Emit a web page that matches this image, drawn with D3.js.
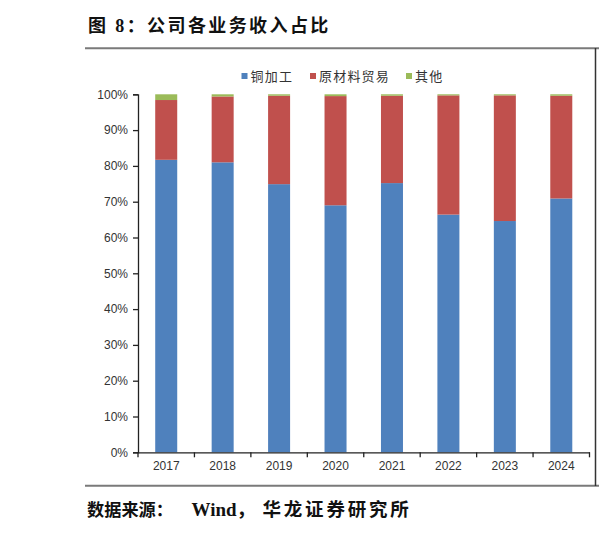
<!DOCTYPE html>
<html>
<head>
<meta charset="utf-8">
<script src="https://cdn.jsdelivr.net/npm/d3@7"></script>
<style>
  html, body { margin: 0; padding: 0; background: #fff; }
  svg { display: block; }
</style>
</head>
<body>
<svg id="chart" width="599" height="534"></svg>
<script>
// ---- data ----
const years = ["2017", "2018", "2019", "2020", "2021", "2022", "2023", "2024"];
const seriesNames = ["铜加工", "原材料贸易", "其他"];
const copper = [81.7, 81.0, 74.9, 69.0, 75.2, 66.4, 64.6, 70.9];
const trade  = [16.7, 18.4, 24.7, 30.5, 24.4, 33.3, 35.1, 28.7];
const other  = [1.6, 0.6, 0.4, 0.5, 0.4, 0.3, 0.3, 0.4];
const yTicks = [0, 10, 20, 30, 40, 50, 60, 70, 80, 90, 100];
const titleText = "图 8：公司各业务收入占比";
const sourceParts = ["数据来源：", "Wind，", "华龙证券研究所"];

const colors = ["#4F81BD", "#C0504D", "#9BBB59"];

const svg = d3.select("#chart");

// table for stacking
const table = years.map((y, i) => ({ year: y, "铜加工": copper[i], "原材料贸易": trade[i], "其他": other[i] }));
const stacked = d3.stack().keys(seriesNames)(table);

const x = d3.scaleBand().domain(years).range([138, 589.5]).paddingInner(0.61).paddingOuter(0.305);
const y = d3.scaleLinear().domain([0, 100]).range([452.3, 94.3]);

// title & frame
svg.append("text")
  .attr("x", 88).attr("y", 32)
  .attr("font-family", "'Liberation Serif', 'Noto Sans CJK SC', serif")
  .attr("font-weight", "bold")
  .attr("font-size", 18)
  .attr("letter-spacing", 2.4)
  .attr("fill", "#111")
  .text(titleText);

svg.append("line").attr("x1", 85).attr("x2", 599).attr("y1", 48.3).attr("y2", 48.3)
  .attr("stroke", "#7a7a7a").attr("stroke-width", 2);
svg.append("line").attr("x1", 85).attr("x2", 599).attr("y1", 485.7).attr("y2", 485.7)
  .attr("stroke", "#7a7a7a").attr("stroke-width", 2);
svg.append("line").attr("x1", 595.5).attr("x2", 595.5).attr("y1", 48).attr("y2", 486)
  .attr("stroke", "#333").attr("stroke-width", 1.5);

// source line
const src = svg.append("text")
  .attr("y", 516)
  .attr("font-family", "'Liberation Serif', 'Noto Sans CJK SC', serif")
  .attr("font-weight", "bold")
  .attr("fill", "#111");
src.append("tspan").attr("x", 87).attr("font-size", 17.2).text(sourceParts[0]);
src.append("tspan").attr("x", 191.5).attr("font-size", 19).text(sourceParts[1]);
src.append("tspan").attr("x", 262.5).attr("font-size", 18.5).attr("letter-spacing", 2.8).text(sourceParts[2]);

// bars
svg.append("g").selectAll("g")
  .data(stacked)
  .join("g")
  .attr("fill", (d, i) => colors[i])
  .selectAll("rect")
  .data(d => d)
  .join("rect")
  .attr("x", d => x(d.data.year))
  .attr("width", x.bandwidth())
  .attr("y", d => y(d[1]))
  .attr("height", d => y(d[0]) - y(d[1]));

// y axis
const yAxis = svg.append("g")
  .attr("transform", "translate(138,0)")
  .call(d3.axisLeft(y).tickValues(yTicks).tickFormat(d => d + "%").tickSize(5).tickPadding(5));
yAxis.select(".domain").attr("stroke", "#222").attr("stroke-width", 1.3);
yAxis.selectAll(".tick line").attr("stroke", "#222").attr("stroke-width", 1.3);
yAxis.selectAll(".tick text")
  .attr("font-family", "'Liberation Sans', Arial, sans-serif")
  .attr("font-size", 12).attr("fill", "#333");

// x axis
const xAxis = svg.append("g")
  .attr("transform", "translate(0," + y(0) + ")")
  .call(d3.axisBottom(x).tickSize(0).tickPadding(9));
xAxis.select(".domain").attr("stroke", "#222").attr("stroke-width", 1.3);
xAxis.selectAll(".tick text")
  .attr("font-family", "'Liberation Sans', Arial, sans-serif")
  .attr("font-size", 12).attr("fill", "#333");
const half = x.step() * x.paddingInner() / 2;
const bounds = years.map(d => x(d) - half).concat([x(years[years.length - 1]) + x.bandwidth() + half]);
xAxis.selectAll("line.bound")
  .data(bounds)
  .join("line")
  .attr("class", "bound")
  .attr("x1", d => d).attr("x2", d => d)
  .attr("y1", 0).attr("y2", 5)
  .attr("stroke", "#222").attr("stroke-width", 1.3);

// legend
const legendX = [241.5, 310, 406];
const lg = svg.append("g").selectAll("g")
  .data(seriesNames)
  .join("g")
  .attr("transform", (d, i) => "translate(" + legendX[i] + ",76)");
lg.append("rect").attr("x", 0).attr("y", -3).attr("width", 6).attr("height", 6)
  .attr("fill", (d, i) => colors[i]);
lg.append("text").attr("x", 9).attr("y", 0).attr("dy", "0.36em")
  .attr("font-family", "'Noto Sans CJK SC', sans-serif")
  .attr("font-size", 13).attr("letter-spacing", 1.2).attr("fill", "#333")
  .text(d => d);
</script>
</body>
</html>
